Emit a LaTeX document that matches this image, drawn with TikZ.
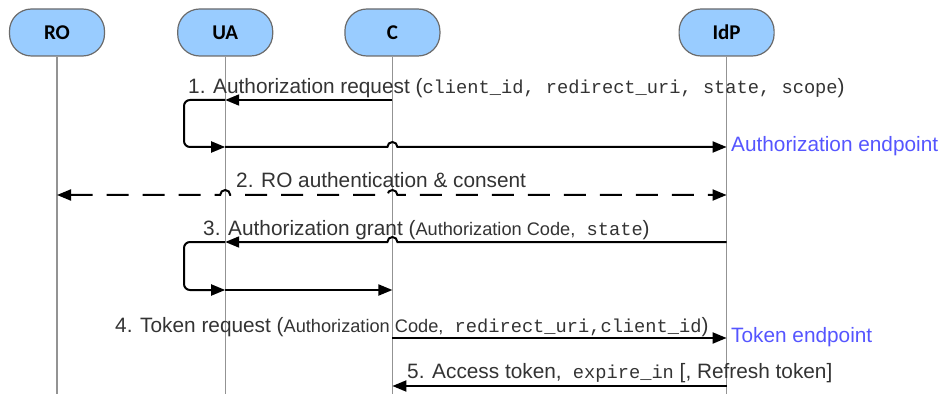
\documentclass[tikz,border=0pt]{standalone}
\usepackage{fontspec}
\setmainfont{Liberation Sans}
\setmonofont{Liberation Mono}
\newfontfamily\boxfont{Carlito}
\usepackage{xcolor}
\usepackage{tikz}
\usetikzlibrary{arrows.meta, positioning, calc}

\definecolor{actorfill}{HTML}{99CCFF}
\definecolor{actorline}{HTML}{6B6B6B}
\definecolor{lblgray}{HTML}{333333}
\definecolor{epblue}{RGB}{85,85,255}

\newcommand{\sm}[1]{{\fontsize{18.2}{20}\selectfont #1}}
\newcommand{\cd}[1]{{\ttfamily\fontsize{18.7}{21}\selectfont #1}}

\begin{document}
\begin{tikzpicture}[
  x=1pt, y=1pt,
  actor/.style={rectangle, rounded corners=22pt, draw=actorline, fill=actorfill,
                line width=1.2pt, minimum width=95pt, minimum height=47pt,
                font=\boxfont\bfseries\fontsize{21}{24}\selectfont},
  life/.style={draw=gray!85, line width=1.3pt},
  msg/.style={line width=2pt, -{Triangle[length=14pt,width=11pt]}},
  lbl/.style={anchor=base west, inner sep=0pt, text=lblgray,
              font=\fontsize{20.8}{24}\selectfont},
  ept/.style={anchor=base west, inner sep=0pt, text=epblue,
              font=\fontsize{20.8}{24}\selectfont}
]
  \useasboundingbox (0,0) rectangle (947,394);

  % actors and lifelines
  \node[actor] (ro) at (57,361.5) {RO};
  \node[actor, right=72pt of ro] (ua) {UA};
  \node[actor, right=71pt of ua] (c) {C};
  \node[actor, right=238pt of c] (idp) {IdP};
  \foreach \n in {ro,ua,c,idp} {
    \coordinate (\n-end) at (\n |- 0,0);
    \draw[life] (\n) -- (\n-end);
  }

  % message rows and loop corners
  \coordinate (r1) at (0,294);
  \coordinate (r2) at (0,199);
  \coordinate (r3) at (0,152);
  \coordinate (r4) at (0,56);
  \coordinate (r5) at (0,8);
  \coordinate (k1) at (184,294);
  \coordinate (k1b) at (184,247);
  \coordinate (k3) at (184,152);
  \coordinate (k3b) at (184,104);

  % 1. authorization request
  \node[lbl] (l1) at (188,300) {1. Authorization request (\cd{client\_id, redirect\_uri, state, scope})};
  \draw[msg] (c |- r1) -- (ua |- r1);
  \draw[msg, rounded corners=6pt] (ua |- r1) -- (k1) -- (k1b) -- (ua |- k1b);
  \draw[msg] (ua |- k1b) -- ($(c |- k1b)+(-5,0)$) arc[start angle=180, end angle=0, radius=5pt] -- (idp |- k1b);
  \node[ept] (ep1) at (731,242) {Authorization endpoint};

  % 2. authentication
  \node[lbl] (l2) at (236,207) {2. RO authentication \& consent};
  \draw[msg, {Triangle[length=14pt,width=11pt]}-{Triangle[length=14pt,width=11pt]},
        dash pattern=on 22pt off 14pt]
    (ro |- r2) -- ($(ua |- r2)+(-5,0)$) arc[start angle=180, end angle=0, radius=5pt]
    -- ($(c |- r2)+(-5,0)$) arc[start angle=180, end angle=0, radius=5pt] -- (idp |- r2);

  % 3. authorization grant
  \node[lbl] (l3) at (203,159) {3. Authorization grant (\sm{Authorization Code,}\cd{ state})};
  \draw[msg] (idp |- r3) -- ($(c |- r3)+(5,0)$) arc[start angle=0, end angle=180, radius=5pt] -- (ua |- r3);
  \draw[msg, rounded corners=6pt] (ua |- r3) -- (k3) -- (k3b) -- (ua |- k3b);
  \draw[msg] (ua |- k3b) -- (c |- k3b);

  % 4. token request
  \node[lbl] (l4) at (115,62) {4. Token request (\sm{Authorization Code,}\cd{ redirect\_uri,client\_id})};
  \draw[msg] (c |- r4) -- (idp |- r4);
  \node[ept] (ep4) at (731,52) {Token endpoint};

  % 5. access token
  \node[lbl] (l5) at (407,16) {5. Access token,\cd{ expire\_in} [, Refresh token]};
  \draw[msg] (idp |- r5) -- (c |- r5);
\end{tikzpicture}
\end{document}
